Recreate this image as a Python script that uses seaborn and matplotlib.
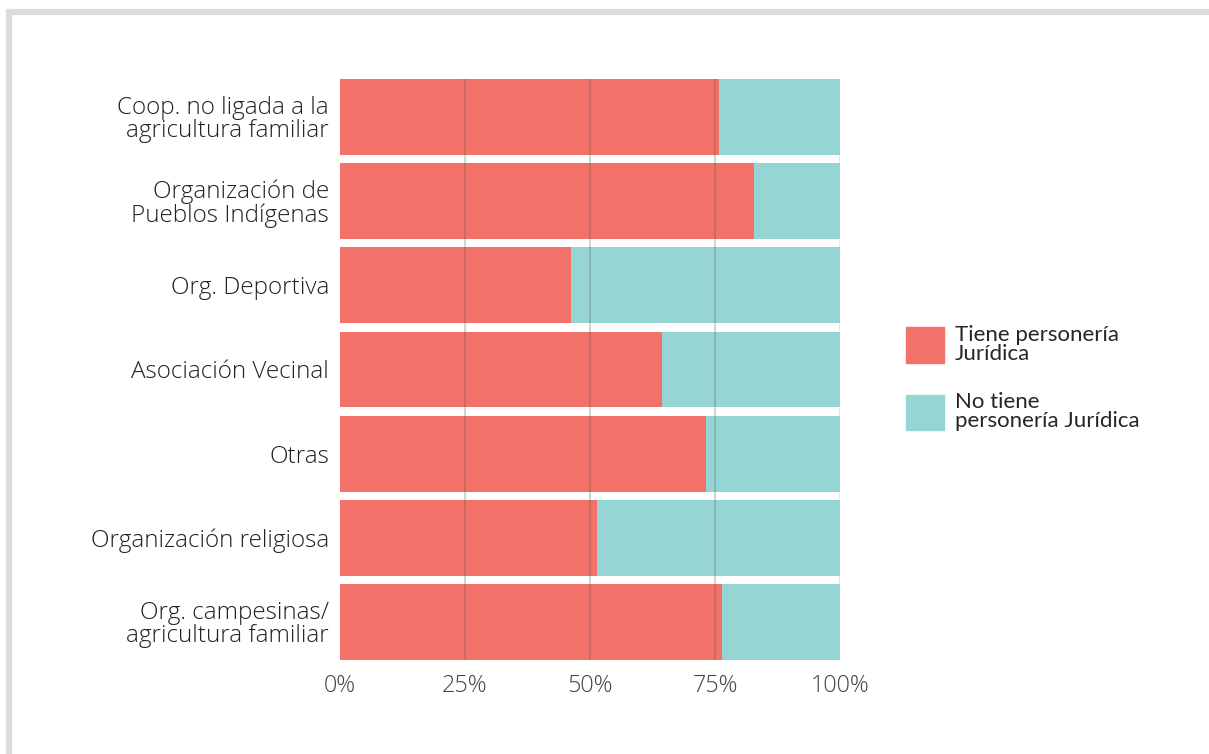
import numpy as np
import pandas as pd
import matplotlib.pyplot as plt
import seaborn as sns
from matplotlib.patches import Patch, Rectangle

# Datos (porcentaje con personería jurídica)
categorias = [
    "Coop. no ligada a la\nagricultura familiar",
    "Organización de\nPueblos Indígenas",
    "Org. Deportiva",
    "Asociación Vecinal",
    "Otras",
    "Organización religiosa",
    "Org. campesinas/\nagricultura familiar",
]
tiene_pj = [75.8, 82.8, 46.2, 64.4, 73.2, 51.4, 76.4]
no_tiene_pj = [100 - v for v in tiene_pj]
ticks_x = [0, 25, 50, 75, 100]
etiquetas_x = ["0%", "25%", "50%", "75%", "100%"]

ROJO = "#F2726A"
TURQUESA = "#95D5D4"

sns.set_theme(style="white")
plt.rcParams["font.family"] = ["Open Sans", "DejaVu Sans"]

df = pd.DataFrame({
    "categoria": categorias,
    "tiene": tiene_pj,
    "total": np.array(tiene_pj) + np.array(no_tiene_pj),
})

fig = plt.figure(figsize=(12.09, 7.54), dpi=100)
ax = fig.add_axes([340 / 1209, 1 - 660 / 754, 500 / 1209, 581 / 754])

sns.barplot(data=df, y="categoria", x="total", color=TURQUESA, width=0.9,
            saturation=1, orient="h", ax=ax, linewidth=0)
sns.barplot(data=df, y="categoria", x="tiene", color=ROJO, width=0.9,
            saturation=1, orient="h", ax=ax, linewidth=0)

ax.set_xlim(0, 100)
ax.set_ylim(len(categorias) - 0.55, -0.45)

# líneas de referencia sobre las barras
for v in [25, 50, 75]:
    ax.axvline(v, color="#555555", alpha=0.25, lw=1.5, zorder=5)
ax.axvline(100, color="#dddddd", lw=1.8, zorder=0)

ax.set_xticks(ticks_x)
ax.set_xticklabels(etiquetas_x, fontsize=16.8, fontweight="light", color="#444444")
ax.set_yticks(range(len(categorias)))
ax.set_yticklabels(categorias, fontsize=17.5, fontweight="light", color="#222222",
                   linespacing=0.95)
ax.tick_params(axis="both", length=0, pad=8)
ax.tick_params(axis="x", pad=10)
ax.set_xlabel("")
ax.set_ylabel("")
sns.despine(ax=ax, left=True, bottom=True)

handles = [Patch(color=ROJO, label="Tiene personería\nJurídica"),
           Patch(color=TURQUESA, label="No tiene\npersonería Jurídica")]
fig.legend(handles=handles, loc="upper left", bbox_to_anchor=(895 / 1209, 1 - 314 / 754),
           frameon=False, prop={"family": "Lato", "size": 16}, handlelength=1.7,
           handleheight=2.1, handletextpad=0.5, labelspacing=1.3, borderpad=0)
for t in fig.legends[0].get_texts():
    t.set_linespacing(0.9)

# marco gris de la figura
fig.add_artist(Rectangle((9 / 1209, -0.05), 1.1, (754 - 12) / 754 + 0.05,
                         transform=fig.transFigure, fill=False,
                         edgecolor="#dcdcdc", lw=4.5))

fig.savefig("out.png", dpi=100)
